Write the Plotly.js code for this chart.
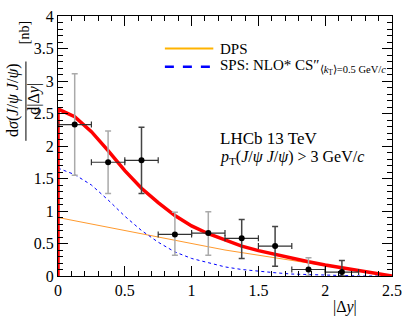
<!DOCTYPE html>
<html>
<head>
<meta charset="utf-8">
<script src="https://cdn.plot.ly/plotly-3.0.1.min.js"></script>
<style>
  html, body { margin: 0; padding: 0; background: #fff; }
  #chart { width: 412px; height: 329px; }
</style>
</head>
<body>
<div id="chart"></div>
<script>
// measured points (bin centres, half width 0.125)
const binX = [0.125, 0.375, 0.625, 0.875, 1.125, 1.375, 1.625, 1.875, 2.125];
const binY = [2.33, 1.75, 1.78, 0.64, 0.66, 0.58, 0.46, 0.10, 0.06];
const errUp = [0.78, 0.48, 0.51, 0.34, 0.33, 0.29, 0.30, 0.18, 0.18];
const errDown = [0.78, 0.48, 0.51, 0.32, 0.34, 0.31, 0.31, 0.10, 0.06];
const darkBars = [2, 5, 6, 8];

// theory curves
const curveX = [0, 0.125, 0.25, 0.375, 0.5, 0.625, 0.75, 0.875, 1.0, 1.125, 1.25, 1.375, 1.5, 1.625, 1.75, 1.875, 2.0, 2.125, 2.25, 2.375, 2.5];
const dps = [0.90, 0.85, 0.80, 0.74, 0.69, 0.64, 0.59, 0.54, 0.49, 0.45, 0.40, 0.36, 0.32, 0.28, 0.24, 0.20, 0.16, 0.12, 0.08, 0.04, 0.0];
const sps = [1.66, 1.56, 1.40, 1.17, 0.92, 0.70, 0.52, 0.37, 0.27, 0.20, 0.14, 0.10, 0.07, 0.05, 0.03, 0.02, 0.01, 0.005, 0.0, 0.0, 0.0];
const total = [2.57, 2.45, 2.22, 1.93, 1.62, 1.35, 1.13, 0.93, 0.77, 0.65, 0.55, 0.46, 0.39, 0.33, 0.27, 0.22, 0.17, 0.13, 0.08, 0.04, 0.0];

const serif = 'Liberation Serif, Times New Roman, serif';

function barTrace(idx, col) {
  return {
    x: idx.map(i => binX[i]), y: idx.map(i => binY[i]),
    type: 'scatter', mode: 'markers', showlegend: false,
    marker: { color: 'black', size: 6 },
    error_y: { type: 'data', symmetric: false, array: idx.map(i => errUp[i]), arrayminus: idx.map(i => errDown[i]), color: col, thickness: 1.5, width: 3 },
    error_x: { type: 'constant', value: 0.125, color: '#333', thickness: 1.2, width: 3 }
  };
}
const lightIdx = binX.map((v, i) => i).filter(i => !darkBars.includes(i));

const data = [
  { x: curveX, y: dps, type: 'scatter', mode: 'lines', line: { color: '#ff9a2e', width: 1 } },
  { x: curveX, y: sps, type: 'scatter', mode: 'lines', line: { color: 'blue', width: 1, dash: 'dot' } },
  { x: [0].concat(curveX), y: [0].concat(total), type: 'scatter', mode: 'lines', line: { color: 'red', width: 3.5 } },
  barTrace(lightIdx, '#aaaaaa'),
  barTrace(darkBars, '#444444')
];

const axisCommon = {
  showgrid: false, zeroline: false, showline: true, linecolor: 'black', linewidth: 1,
  mirror: 'ticks', ticks: 'inside', ticklen: 10, tickcolor: 'black', tickwidth: 1,
  tickfont: { family: serif, size: 16, color: 'black' },
  minor: { dtick: 0.1, ticks: 'inside', ticklen: 5, tickcolor: 'black', tickwidth: 1 }
};

function txt(x, y, text, size, extra) {
  return Object.assign({ xref: 'paper', yref: 'paper', x: x, y: y, xanchor: 'left', yanchor: 'middle',
    showarrow: false, text: text, font: { family: serif, size: size, color: 'black' } }, extra || {});
}

const layout = {
  width: 412, height: 329,
  margin: { l: 58, r: 20, t: 16, b: 53 },
  paper_bgcolor: 'white', plot_bgcolor: 'white',
  font: { family: serif, color: 'black' },
  xaxis: Object.assign({}, axisCommon, { range: [0, 2.5], dtick: 0.5, tick0: 0 }),
  yaxis: Object.assign({}, axisCommon, { range: [0, 4], dtick: 0.5, tick0: 0 }),
  showlegend: false,
  annotations: [
    // legend text
    txt(0.479, 0.875, 'DPS', 15),
    txt(0.479, 0.805, 'SPS: NLO* CS″<sub>⟨<i>k</i><sub>T</sub>⟩=0.5 GeV/<i>c</i></sub>', 15),
    txt(0.479, 0.53, 'LHCb 13 TeV', 17),
    txt(0.479, 0.455, '<i>p</i><sub>T</sub>(<i>J</i>/<i>ψ J</i>/<i>ψ</i>) > 3 GeV/<i>c</i>', 16),
    txt(0.86, -0.12, '|Δ<i>y</i>|', 16, { xanchor: 'center' }),
    txt(-0.135, 0.677, 'd<i>σ</i>(<i>J</i>/<i>ψ J</i>/<i>ψ</i>)', 16, { xanchor: 'center', textangle: -90 }),
    txt(-0.07, 0.68, 'd|Δ<i>y</i>|', 16, { xanchor: 'center', textangle: -90 }),
    txt(-0.098, 0.935, '[nb]', 14, { xanchor: 'center', textangle: -90 })
  ],
  shapes: [
    { type: 'line', xref: 'paper', yref: 'paper', x0: 0.32, x1: 0.465, y0: 0.875, y1: 0.875, line: { color: '#ffb300', width: 2 } },
    { type: 'line', xref: 'paper', yref: 'paper', x0: 0.32, x1: 0.465, y0: 0.805, y1: 0.805, line: { color: 'blue', width: 2.5, dash: 'dash' } },
    { type: 'line', xref: 'paper', yref: 'paper', x0: -0.096, x1: -0.096, y0: 0.52, y1: 0.825, line: { color: 'black', width: 1 } }
  ]
};

Plotly.newPlot('chart', data, layout, { displayModeBar: false, staticPlot: true });
</script>
</body>
</html>
